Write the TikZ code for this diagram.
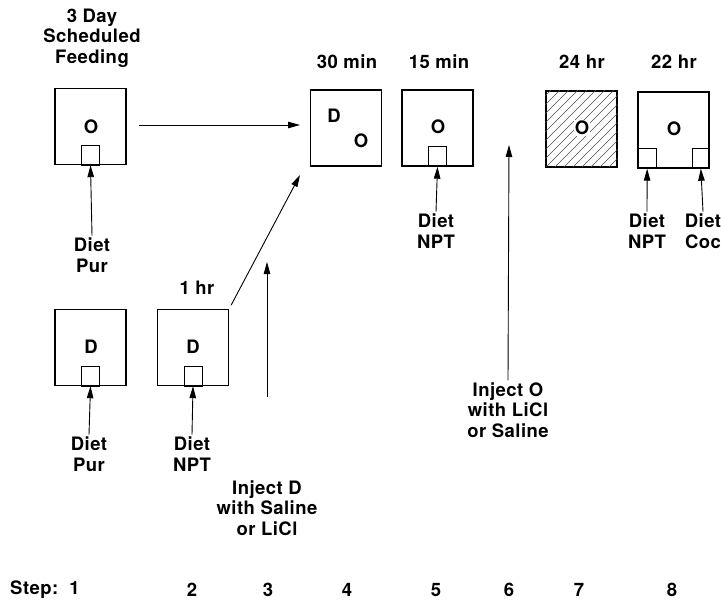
\documentclass[tikz,border=0pt]{standalone}
\usepackage{fontspec}
\setmainfont{TeX Gyre Heros}[LetterSpace=2.5]
\usetikzlibrary{arrows.meta}
\begin{document}
\begin{tikzpicture}[x=1pt,y=-1pt,
  every node/.style={font=\fontsize{18.5}{20.5}\selectfont\bfseries,align=center,inner sep=2pt},
  cage/.style={draw,line width=1.4pt,minimum width=71pt,minimum height=76pt},
  cup/.style={draw,line width=0.7pt,minimum width=18pt,minimum height=20pt,anchor=south},
  feed/.style={-{Triangle[length=12pt,width=6.5pt]},line width=0.9pt}]
\useasboundingbox (0,0) rectangle (721,602);
% top row
\node (title) at (92,38) {3 Day\\Scheduled\\Feeding};
\node[cage] (b1) at (90.5,126.5) {};
\node at (91,127) {O};
\node[cup] (c1) at (b1.south) {};
\node (d1) at (92,255) {Diet\\Pur};
\draw[feed] (d1.north) -- (c1.south);
\node (t4) at (347,62) {30 min};
\node[cage] (b4) at (346,128) {};
\node at (334,116) {D};
\node at (361,141) {O};
\node (t5) at (439,62) {15 min};
\node[cage] (b5) at (437.5,128) {};
\node at (438,127) {O};
\node[cup] (c5) at (b5.south) {};
\node (d5) at (436,231) {Diet\\NPT};
\draw[feed] (d5.north) -- (c5.south);
\node (t7) at (582,62) {24 hr};
\node[cage] (b7) at (581.5,129) {};
\begin{scope}
  \clip (b7.south west) rectangle (b7.north east);
  \foreach \k in {-72,-63,...,72}
    \draw[line width=0.4pt,black!70] (546+\k,167) -- ++(80,-80);
\end{scope}
\node[fill=white,inner sep=1pt] at (582,128) {O};
\node (t8) at (674,62) {22 hr};
\node[cage] (b8) at (673.5,130) {};
\node at (674,129) {O};
\node[cup,anchor=south west,minimum width=19pt] (c8a) at (b8.south west) {};
\node[cup,anchor=south east,minimum width=17pt] (c8b) at (b8.south east) {};
\node (d8a) at (647,231) {Diet\\NPT};
\node (d8b) at (703,231) {Diet\\Coc};
\draw[feed] (d8a.north) -- (c8a.south);
\draw[feed] (d8b.north) -- (c8b.south);
\draw[feed] (b1.east |- 0,125) ++(12,0) -- (300,125);
% bottom row
\node[cage] (b2) at (90.5,347.5) {};
\node at (91,347) {D};
\node[cup] (c2) at (b2.south) {};
\node (d2) at (89,454) {Diet\\Pur};
\draw[feed] (d2.north) -- (c2.south);
\node (t3) at (197,288) {1 hr};
\node[cage] (b3) at (193,347.5) {};
\node at (193,347) {D};
\node[cup] (c3) at (b3.south) {};
\node (d3) at (192,454) {Diet\\NPT};
\draw[feed] (d3.north) -- (c3.south);
\coordinate (tip4) at (300,175);
\draw[feed,shorten <=4pt] (b3.north east) -- (tip4);
% injections
\node (injD) at (267,508) {Inject D\\with Saline\\or LiCl};
\coordinate (tailD) at (267,397);
\coordinate (tipD) at (267,262);
\draw[feed] (tailD) -- (tipD);
\node (injO) at (508,410) {Inject O\\with LiCl\\or Saline};
\coordinate (tipO) at (509,145);
\draw[feed] (injO.north) -- (tipO);
% steps
\node[anchor=west] (s1) at (8,590) {Step:\ \ 1};
\node (s2) at (192,590) {2};
\node (s3) at (268,590) {3};
\node (s4) at (347,590) {4};
\node (s5) at (436,590) {5};
\node (s6) at (509,590) {6};
\node (s7) at (579,590) {7};
\node (s8) at (672,590) {8};
\end{tikzpicture}
\end{document}
